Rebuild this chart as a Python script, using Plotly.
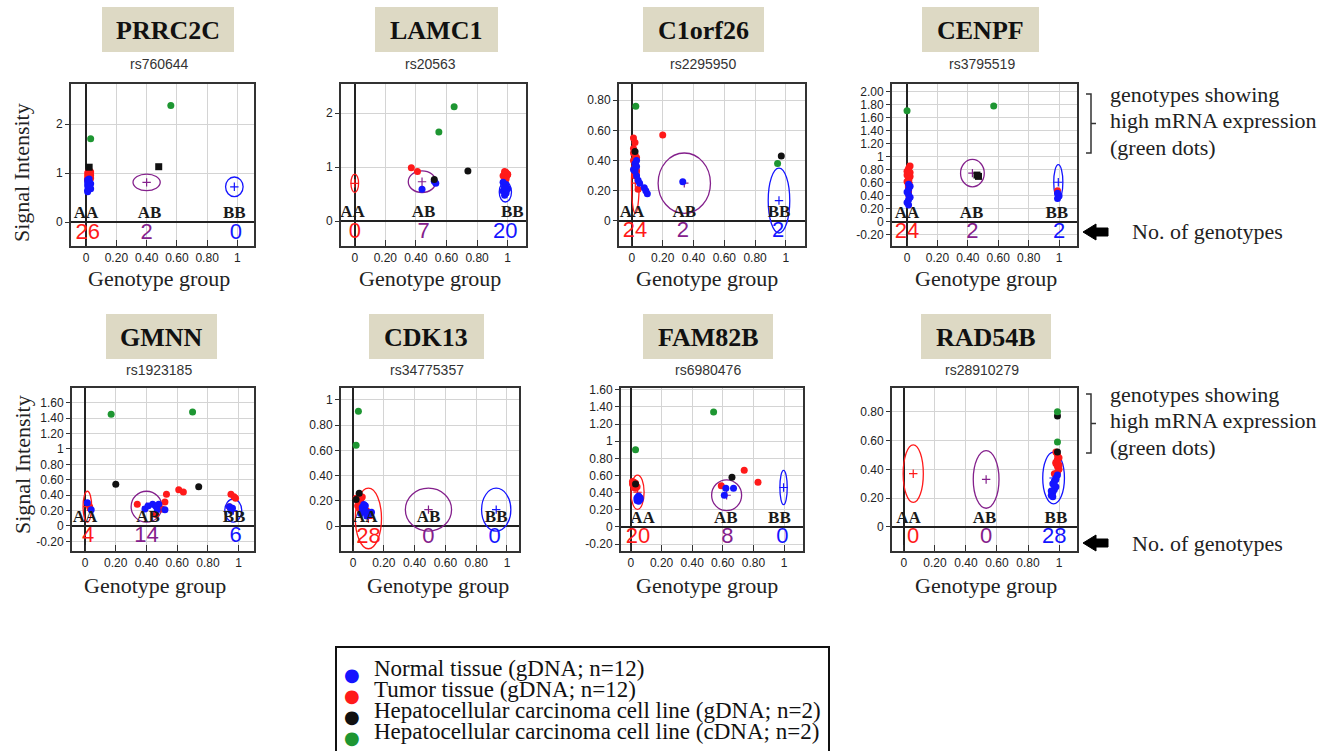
import plotly.graph_objects as go

W, H = 1330, 751

# ---------------- data ----------------
genes = ["PRRC2C", "LAMC1", "C1orf26", "CENPF", "GMNN", "CDK13", "FAM82B", "RAD54B"]
snps = ["rs760644", "rs20563", "rs2295950", "rs3795519", "rs1923185", "rs34775357", "rs6980476", "rs28910279"]
count_AA = [26, 0, 24, 24, 4, 28, 20, 0]
count_AB = [2, 7, 2, 2, 14, 0, 8, 0]
count_BB = [0, 20, 2, 2, 6, 0, 0, 28]

normal_x = [
    [0.01, 0.02, 0.01, 0.03, 0.02, 0.01, 0.02, 0.03, 0.01, 0.02, 0.02, 0.01],
    [0.44, 0.53, 0.52, 0.98, 0.99, 0.97, 1.00, 0.98, 0.99, 0.97, 0.99, 0.98],
    [0.01, 0.02, 0.03, 0.03, 0.04, 0.05, 0.08, 0.09, 0.10, 0.02, 0.03, 0.33],
    [0.01, 0.00, 0.01, 0.02, 0.01, 0.00, 0.01, 0.02, 0.99, 1.00, 0.99, 0.01],
    [0.015, 0.04, 0.39, 0.41, 0.44, 0.46, 0.48, 0.47, 0.52, 0.94, 0.95, 0.96],
    [0.05, 0.06, 0.07, 0.08, 0.09, 0.10, 0.11, 0.06, 0.07, 0.08, 0.12, 0.09],
    [0.04, 0.05, 0.05, 0.06, 0.04, 0.05, 0.06, 0.05, 0.04, 0.62, 0.67, 0.61],
    [0.95, 0.96, 0.97, 0.98, 0.96, 0.97, 0.98, 0.99, 0.95, 0.96, 0.97, 0.98],
]
normal_y = [
    [0.65, 0.70, 0.74, 0.78, 0.82, 0.86, 0.76, 0.68, 0.80, 0.72, 0.88, 0.62],
    [0.59, 0.70, 0.74, 0.48, 0.52, 0.56, 0.60, 0.64, 0.68, 0.72, 0.58, 0.62],
    [0.34, 0.38, 0.40, 0.30, 0.27, 0.25, 0.22, 0.20, 0.18, 0.33, 0.36, 0.26],
    [0.26, 0.30, 0.34, 0.38, 0.42, 0.46, 0.50, 0.55, 0.36, 0.40, 0.44, 0.58],
    [0.30, 0.21, 0.22, 0.26, 0.28, 0.26, 0.28, 0.21, 0.21, 0.25, 0.20, 0.23],
    [0.10, 0.12, 0.14, 0.16, 0.11, 0.09, 0.10, 0.15, 0.17, 0.12, 0.11, 0.08],
    [0.31, 0.33, 0.35, 0.32, 0.34, 0.30, 0.34, 0.36, 0.33, 0.45, 0.45, 0.37],
    [0.22, 0.24, 0.26, 0.28, 0.30, 0.32, 0.34, 0.36, 0.25, 0.21, 0.29, 0.33],
]
tumor_x = [
    [0.01, 0.02, 0.03, 0.01, 0.02, 0.03, 0.01, 0.02, 0.02, 0.01, 0.03, 0.02],
    [0.37, 0.41, 0.98, 0.99, 1.00, 0.98, 0.99, 0.97, 0.99, 1.00, 0.98, 0.99],
    [0.01, 0.02, 0.01, 0.02, 0.03, 0.01, 0.02, 0.03, 0.02, 0.04, 0.01, 0.20],
    [0.00, 0.01, 0.02, 0.01, 0.00, 0.01, 0.02, 0.01, 0.00, 0.01, 0.02, 0.99],
    [0.34, 0.46, 0.53, 0.52, 0.61, 0.64, 0.95, 0.98, 0.94, 0.03, 0.50, 0.97],
    [0.02, 0.03, 0.04, 0.05, 0.06, 0.03, 0.04, 0.05, 0.07, 0.08, 0.06, 0.09],
    [0.01, 0.02, 0.03, 0.02, 0.01, 0.03, 0.02, 0.04, 0.03, 0.59, 0.74, 0.83],
    [0.98, 0.99, 1.00, 0.99, 0.98, 0.99, 1.00, 0.99, 0.98, 0.99, 1.00, 0.97],
]
tumor_y = [
    [0.88, 0.92, 0.96, 1.00, 1.04, 0.90, 0.94, 0.98, 1.06, 0.86, 1.02, 0.95],
    [0.99, 0.92, 0.80, 0.83, 0.86, 0.88, 0.90, 0.84, 0.82, 0.87, 0.92, 0.78],
    [0.55, 0.52, 0.48, 0.44, 0.42, 0.40, 0.36, 0.33, 0.30, 0.21, 0.45, 0.57],
    [0.62, 0.66, 0.70, 0.74, 0.78, 0.82, 0.86, 0.64, 0.72, 0.80, 0.76, 0.48],
    [0.28, 0.15, 0.41, 0.31, 0.47, 0.44, 0.41, 0.36, 0.25, 0.25, 0.22, 0.38],
    [0.22, 0.20, 0.18, 0.21, 0.17, 0.16, 0.14, 0.19, 0.15, 0.13, 0.23, 0.12],
    [0.50, 0.52, 0.48, 0.46, 0.53, 0.51, 0.49, 0.47, 0.45, 0.48, 0.66, 0.52],
    [0.52, 0.50, 0.48, 0.46, 0.44, 0.42, 0.40, 0.38, 0.45, 0.47, 0.43, 0.37],
]
cell_gdna_x = [[0.02, 0.48], [0.74, 0.52], [0.97, 0.02], [0.47, 0.46],
               [0.20, 0.74], [0.04, 0.02], [0.66, 0.03], [0.99, 0.99]]
cell_gdna_y = [[1.12, 1.13], [0.93, 0.77], [0.43, 0.46], [0.70, 0.72],
               [0.54, 0.51], [0.26, 0.21], [0.58, 0.50], [0.77, 0.52]]
cell_cdna_x = [[0.03, 0.56], [0.55, 0.65], [0.025, 0.946], [0.00, 0.57],
               [0.17, 0.70], [0.035, 0.02], [0.03, 0.54], [0.99, 0.99]]
cell_cdna_y = [[1.70, 2.38], [1.65, 2.12], [0.76, 0.38], [1.71, 1.78],
               [1.45, 1.48], [0.91, 0.64], [0.90, 1.34], [0.80, 0.59]]

# genotype cluster ellipses: (centre x, centre y, radius x, radius y)
cluster_AA = [(0.02, 0.85, 0.02, 0.20), (0.0, 0.70, 0.025, 0.17), (0.022, 0.25, 0.025, 0.20),
              (0.01, 0.60, 0.02, 0.30), (0.015, 0.25, 0.028, 0.20), (0.10, 0.06, 0.085, 0.24),
              (0.043, 0.405, 0.043, 0.20), (0.06, 0.37, 0.065, 0.20)]
cluster_AB = [(0.40, 0.81, 0.09, 0.17), (0.44, 0.73, 0.09, 0.20), (0.34, 0.25, 0.17, 0.20),
              (0.43, 0.75, 0.078, 0.21), (0.40, 0.25, 0.10, 0.20), (0.49, 0.13, 0.15, 0.17),
              (0.625, 0.37, 0.098, 0.18), (0.53, 0.33, 0.083, 0.20)]
cluster_BB = [(0.98, 0.72, 0.058, 0.20), (0.985, 0.54, 0.04, 0.185), (0.955, 0.135, 0.07, 0.215),
              (0.995, 0.61, 0.03, 0.27), (0.965, 0.20, 0.055, 0.15), (0.93, 0.13, 0.095, 0.17),
              (0.997, 0.46, 0.024, 0.20), (0.965, 0.34, 0.07, 0.18)]

x_tick_vals = [0, 0.2, 0.4, 0.6, 0.8, 1]
y_tick_vals = [
    [0, 1, 2], [0, 1, 2], [0, 0.2, 0.4, 0.6, 0.8],
    [-0.2, 0, 0.2, 0.4, 0.6, 0.8, 1, 1.2, 1.4, 1.6, 1.8, 2.0],
    [-0.2, 0, 0.2, 0.4, 0.6, 0.8, 1, 1.2, 1.4, 1.6],
    [0, 0.2, 0.4, 0.6, 0.8, 1],
    [-0.2, 0, 0.2, 0.4, 0.6, 0.8, 1, 1.2, 1.4, 1.6],
    [0, 0.2, 0.4, 0.6, 0.8],
]
integer_style = [True, True, False, False, False, False, False, False]

legend_labels = ["Normal tissue (gDNA; n=12)", "Tumor tissue (gDNA; n=12)",
                 "Hepatocellular carcinoma cell line (gDNA; n=2)",
                 "Hepatocellular carcinoma cell line (cDNA; n=2)"]

# ---------------- layout (pixels) ----------------
boxes = [(71, 254, 84, 246), (341, 526, 84, 246), (619, 805, 84, 246), (892, 1077, 84, 246),
         (72, 254, 388, 551), (341, 519, 388, 551), (621, 803, 388, 551), (892, 1077, 388, 551)]
x_ranges = [(-0.1, 1.11), (-0.09, 1.12), (-0.084, 1.124), (-0.099, 1.118),
            (-0.085, 1.10), (-0.078, 1.078), (-0.065, 1.124), (-0.077, 1.116)]
y_ranges = [(-0.49, 2.82), (-0.46, 2.54), (-0.166, 0.907), (-0.37, 2.12),
            (-0.325, 1.79), (-0.198, 1.095), (-0.28, 1.62), (-0.167, 0.965)]
title_boxes = [(102, 234, 7, 52), (375, 498, 7, 52), (643, 764, 7, 52), (922, 1039, 7, 52),
               (106, 217, 314, 359), (369, 484, 314, 359), (643, 773, 314, 359), (921, 1051, 314, 359)]
snp_x = [159, 431, 703, 982, 159, 427, 708, 982]
xtitle_x = [159, 430, 707, 986, 155, 438, 707, 986]
lab_AA_x = [0.0, -0.015, 0.0, 0.0, 0.0, 0.08, 0.076, 0.03]
lab_AB_x = [0.42, 0.45, 0.34, 0.425, 0.41, 0.49, 0.62, 0.52]
lab_BB_x = [0.98, 1.03, 0.955, 0.985, 0.97, 0.93, 0.97, 0.98]
cnt_AA_x = [0.01, 0.0, 0.02, 0.0, 0.02, 0.10, 0.046, 0.06]
cnt_AB_x = [0.40, 0.45, 0.33, 0.43, 0.40, 0.49, 0.63, 0.53]
cnt_BB_x = [0.99, 0.985, 0.95, 1.0, 0.98, 0.92, 0.99, 0.97]

BLUE, RED, BLACK, GREEN, PURPLE = "#1414ff", "#ff1a1a", "#111111", "#1e9632", "#84208c"
SERIF = "Liberation Serif"
SANS = "Liberation Sans"


def X(px):
    return px / W


def Y(py):
    return 1 - py / H


def fmt(v, integer):
    if abs(v) < 1e-9:
        return "0"
    if abs(v - 1) < 1e-9:
        return "1"
    if integer:
        return str(int(round(v)))
    return f"{v:.2f}"


def note(px, py, text, size, family=SERIF, color="#222222", xanchor="center", **kw):
    return dict(x=X(px), y=Y(py), xref="paper", yref="paper", text=text, showarrow=False,
                xanchor=xanchor, yanchor="middle", font=dict(family=family, size=size, color=color),
                **kw)


fig = go.Figure()
shapes = []
annotations = []
layout_axes = {}

for i in range(8):
    n = "" if i == 0 else str(i + 1)
    xa, ya = "x" + n, "y" + n
    l, r, t, b = boxes[i]
    layout_axes["xaxis" + n] = dict(
        domain=[X(l), X(r)], range=list(x_ranges[i]), anchor=ya, automargin=False,
        tickvals=x_tick_vals, ticktext=[fmt(v, False) for v in x_tick_vals],
        showgrid=True, gridcolor="#d4d4d4", gridwidth=1,
        zeroline=True, zerolinecolor="#222222", zerolinewidth=1.5,
        showline=True, linecolor="#333333", linewidth=2, mirror=True,
        ticks="inside", ticklen=6, tickcolor="#333333",
        tickfont=dict(family=SANS, size=12, color="#222222"), fixedrange=True)
    layout_axes["yaxis" + n] = dict(
        domain=[Y(b), Y(t)], range=list(y_ranges[i]), anchor=xa, automargin=False,
        tickvals=y_tick_vals[i], ticktext=[fmt(v, integer_style[i]) for v in y_tick_vals[i]],
        showgrid=True, gridcolor="#d4d4d4", gridwidth=1,
        zeroline=True, zerolinecolor="#222222", zerolinewidth=1.5,
        showline=True, linecolor="#333333", linewidth=2, mirror=True,
        ticks="outside", ticklen=4, tickcolor="#333333",
        tickfont=dict(family=SANS, size=12, color="#222222"), fixedrange=True)

    # cluster ellipses and their centres
    for clusters, col in ((cluster_AA, RED), (cluster_AB, PURPLE), (cluster_BB, BLUE)):
        cx, cy, rx, ry = clusters[i]
        shapes.append(dict(type="circle", xref=xa, yref=ya, x0=cx - rx, x1=cx + rx,
                           y0=cy - ry, y1=cy + ry, line=dict(color=col, width=1.3),
                           layer="between"))
    fig.add_trace(go.Scatter(
        x=[cluster_AA[i][0], cluster_AB[i][0], cluster_BB[i][0]],
        y=[cluster_AA[i][1], cluster_AB[i][1], cluster_BB[i][1]],
        mode="markers", xaxis=xa, yaxis=ya, showlegend=False, hoverinfo="skip",
        marker=dict(symbol="cross-thin", size=6, line=dict(width=1.2, color=[RED, PURPLE, BLUE]))))

    # samples
    sym_black = "square" if i in (0, 3) else "circle"
    for xs, ys, col, sym in ((tumor_x, tumor_y, RED, "circle"), (normal_x, normal_y, BLUE, "circle"),
                             (cell_gdna_x, cell_gdna_y, BLACK, sym_black),
                             (cell_cdna_x, cell_cdna_y, GREEN, "circle")):
        fig.add_trace(go.Scatter(x=xs[i], y=ys[i], mode="markers", xaxis=xa, yaxis=ya,
                                 showlegend=False,
                                 marker=dict(size=7, color=col, symbol=sym, line=dict(width=0))))

    # genotype labels
    fig.add_trace(go.Scatter(
        x=[lab_AA_x[i], lab_AB_x[i], lab_BB_x[i]], y=[0, 0, 0], mode="text",
        text=["AA", "AB", "BB"], textposition="top center", cliponaxis=True,
        xaxis=xa, yaxis=ya, showlegend=False, hoverinfo="skip",
        textfont=dict(family=SERIF, size=17, color="#1a1a1a", weight="bold")))
    # genotype counts
    fig.add_trace(go.Scatter(
        x=[cnt_AA_x[i], cnt_AB_x[i], cnt_BB_x[i]], y=[0, 0, 0], mode="text",
        text=[str(count_AA[i]), str(count_AB[i]), str(count_BB[i])],
        textposition="bottom center", cliponaxis=True,
        xaxis=xa, yaxis=ya, showlegend=False, hoverinfo="skip",
        textfont=dict(family=SANS, size=22, color=[RED, PURPLE, BLUE])))

    # gene title box
    bl, br, bt, bb = title_boxes[i]
    shapes.append(dict(type="rect", xref="paper", yref="paper", x0=X(bl), x1=X(br),
                       y0=Y(bb), y1=Y(bt), fillcolor="#ddd9c4", line=dict(width=0), layer="below"))
    annotations.append(note((bl + br) / 2, (bt + bb) / 2 + 1, f"<b>{genes[i]}</b>", 26,
                            color="#111111"))
    row_top = 64 if i < 4 else 370
    annotations.append(note(snp_x[i], row_top, snps[i], 14, family=SANS, color="#333333"))
    xt_y = 278 if i < 4 else 585
    annotations.append(note(xtitle_x[i], xt_y, "Genotype group", 22))

# y-axis titles
for yc in (173, 465):
    annotations.append(note(22, yc, "Signal Intensity", 22, textangle=-90))

# right side notes
for top in (94, 394):
    lines = ["genotypes showing", "high mRNA expression", "(green dots)"]
    for k, s in enumerate(lines):
        annotations.append(note(1108, top + 26.5 * k, s, 22, xanchor="left"))
    b0, b1 = top, top + 59
    m = (b0 + b1) / 2
    shapes.append(dict(type="path", xref="paper", yref="paper",
                       path=(f"M {X(1086)},{Y(b0)} L {X(1091)},{Y(b0)} L {X(1091)},{Y(b1)} "
                             f"L {X(1086)},{Y(b1)} M {X(1091)},{Y(m)} L {X(1096)},{Y(m)}"),
                       line=dict(color="#333333", width=1.5)))
for yc in (232, 543):
    annotations.append(note(1130, yc, "No. of genotypes", 22, xanchor="left"))
    shapes.append(dict(type="path", xref="paper", yref="paper",
                       path=(f"M {X(1083)},{Y(yc)} L {X(1096)},{Y(yc - 8)} L {X(1096)},{Y(yc - 4)} "
                             f"L {X(1108)},{Y(yc - 4)} L {X(1108)},{Y(yc + 4)} L {X(1096)},{Y(yc + 4)} "
                             f"L {X(1096)},{Y(yc + 8)} Z"),
                       fillcolor="#000000", line=dict(color="#000000", width=1)))

# legend box
shapes.append(dict(type="rect", xref="paper", yref="paper", x0=X(336), x1=X(829),
                   y0=Y(762), y1=Y(647), line=dict(color="#111111", width=2), fillcolor="white",
                   layer="below"))
for k, (lab, col) in enumerate(zip(legend_labels, [BLUE, RED, BLACK, GREEN])):
    yc = 668 + 21.3 * k
    annotations.append(note(352, yc + 6, "●", 18, family="DejaVu Sans", color=col))
    annotations.append(note(372, yc, lab, 23, color="#111111", xanchor="left"))

fig.update_layout(
    template="none",
    width=W, height=H, autosize=False,
    margin=dict(l=0, r=0, t=0, b=0, pad=0),
    paper_bgcolor="white", plot_bgcolor="white",
    showlegend=False, shapes=shapes, annotations=annotations,
    **layout_axes)

fig.write_html("out.html", config={"displayModeBar": False},
               post_script="document.body.style.margin='0px';document.body.style.overflow='hidden';")
